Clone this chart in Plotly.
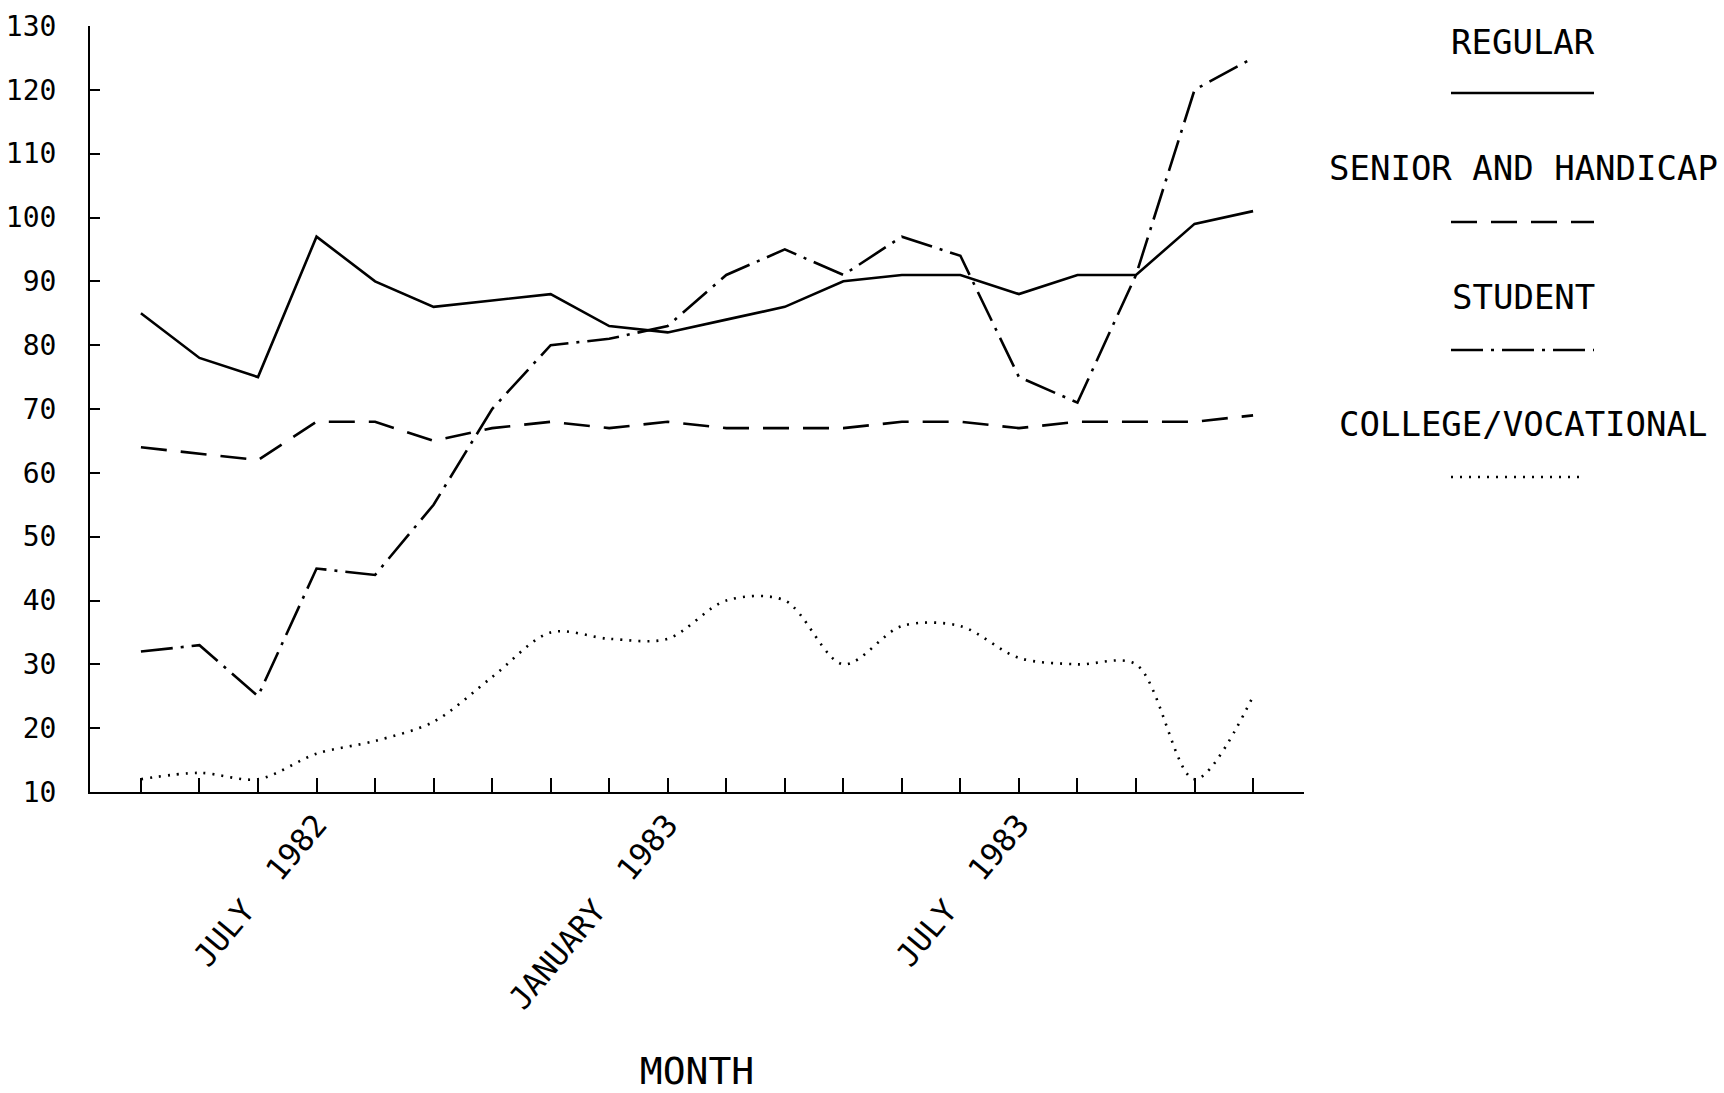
import plotly.graph_objects as go

months = ["APR 1982", "MAY 1982", "JUN 1982", "JUL 1982", "AUG 1982", "SEP 1982",
          "OCT 1982", "NOV 1982", "DEC 1982", "JAN 1983", "FEB 1983", "MAR 1983",
          "APR 1983", "MAY 1983", "JUN 1983", "JUL 1983", "AUG 1983", "SEP 1983",
          "OCT 1983", "NOV 1983"]
tick_labels = ["", "", "", "JULY  1982", "", "", "", "", "", "JANUARY  1983",
               "", "", "", "", "", "JULY  1983", "", "", "", ""]

regular = [85, 78, 75, 97, 90, 86, 87, 88, 83, 82, 84, 86, 90, 91, 91, 88, 91, 91, 99, 101]
senior = [64, 63, 62, 68, 68, 65, 67, 68, 67, 68, 67, 67, 67, 68, 68, 67, 68, 68, 68, 69]
student = [32, 33, 25, 45, 44, 55, 70, 80, 81, 83, 91, 95, 91, 97, 94, 75, 71, 91, 120, 125]
college = [12, 13, 12, 16, 18, 21, 28, 35, 34, 34, 40, 40, 30, 36, 36, 31, 30, 30, 12, 25]

series_names = ["REGULAR", "SENIOR AND HANDICAP", "STUDENT", "COLLEGE/VOCATIONAL"]
dashes = ["solid", "26px,14px", "32px,8px,3px,8px", "2px,7px"]

MONO = "DejaVu Sans Mono"

fig = go.Figure()
for name, vals, dash in zip(series_names, [regular, senior, student, college], dashes):
    fig.add_trace(go.Scatter(
        x=months, y=vals, mode="lines", name=name,
        line=dict(color="black", width=2.6, dash=dash,
                  shape="spline" if name == "COLLEGE/VOCATIONAL" else "linear",
                  smoothing=0.9),
        showlegend=False,
    ))

# layout geometry (pixels)
W, H = 1724.0, 1093.0
L, R, T, B = 90, 420, 26, 301
pw = W - L - R
ph = H - T - B

def px_to_paper_x(px):
    return (px - L) / pw

def px_to_paper_y(py):
    return (H - B - py) / ph

# Custom legend: text above line sample
legend_text_y = [42, 168, 297, 424]
legend_line_y = [93, 222, 350, 477]
for name, dash, ty, ly in zip(series_names, dashes, legend_text_y, legend_line_y):
    fig.add_annotation(
        x=px_to_paper_x(1523), y=px_to_paper_y(ty), xref="paper", yref="paper",
        text=name, showarrow=False, font=dict(family=MONO, size=34, color="black"),
        xanchor="center", yanchor="middle",
    )
    x1 = 1594 if name != "COLLEGE/VOCATIONAL" else 1586
    fig.add_shape(
        type="line", xref="paper", yref="paper",
        x0=px_to_paper_x(1451), x1=px_to_paper_x(x1),
        y0=px_to_paper_y(ly), y1=px_to_paper_y(ly),
        line=dict(color="black", width=2.6, dash=dash),
    )

fig.update_layout(
    width=1724, height=1093,
    margin=dict(l=L, r=R, t=T, b=B, autoexpand=False),
    paper_bgcolor="white", plot_bgcolor="white",
    font=dict(family=MONO, color="black"),
)
fig.update_xaxes(
    type="category", range=[-0.87, 19.87], automargin=False,
    tickvals=months, ticktext=tick_labels, tickangle=-50,
    tickfont=dict(family=MONO, size=31),
    ticks="inside", ticklen=14, tickwidth=2, tickcolor="black",
    showline=True, linecolor="black", linewidth=2,
    showgrid=False, zeroline=False,
    title=dict(text="MONTH", font=dict(family=MONO, size=38), standoff=44),
)
fig.update_yaxes(
    range=[10, 130], tickvals=list(range(10, 131, 10)), automargin=False,
    tickfont=dict(family=MONO, size=28),
    ticks="inside", ticklen=10, tickwidth=2, tickcolor="black",
    showline=True, linecolor="black", linewidth=2,
    showgrid=False, zeroline=False, ticklabelstandoff=26,
)

fig.write_html("out.html")
